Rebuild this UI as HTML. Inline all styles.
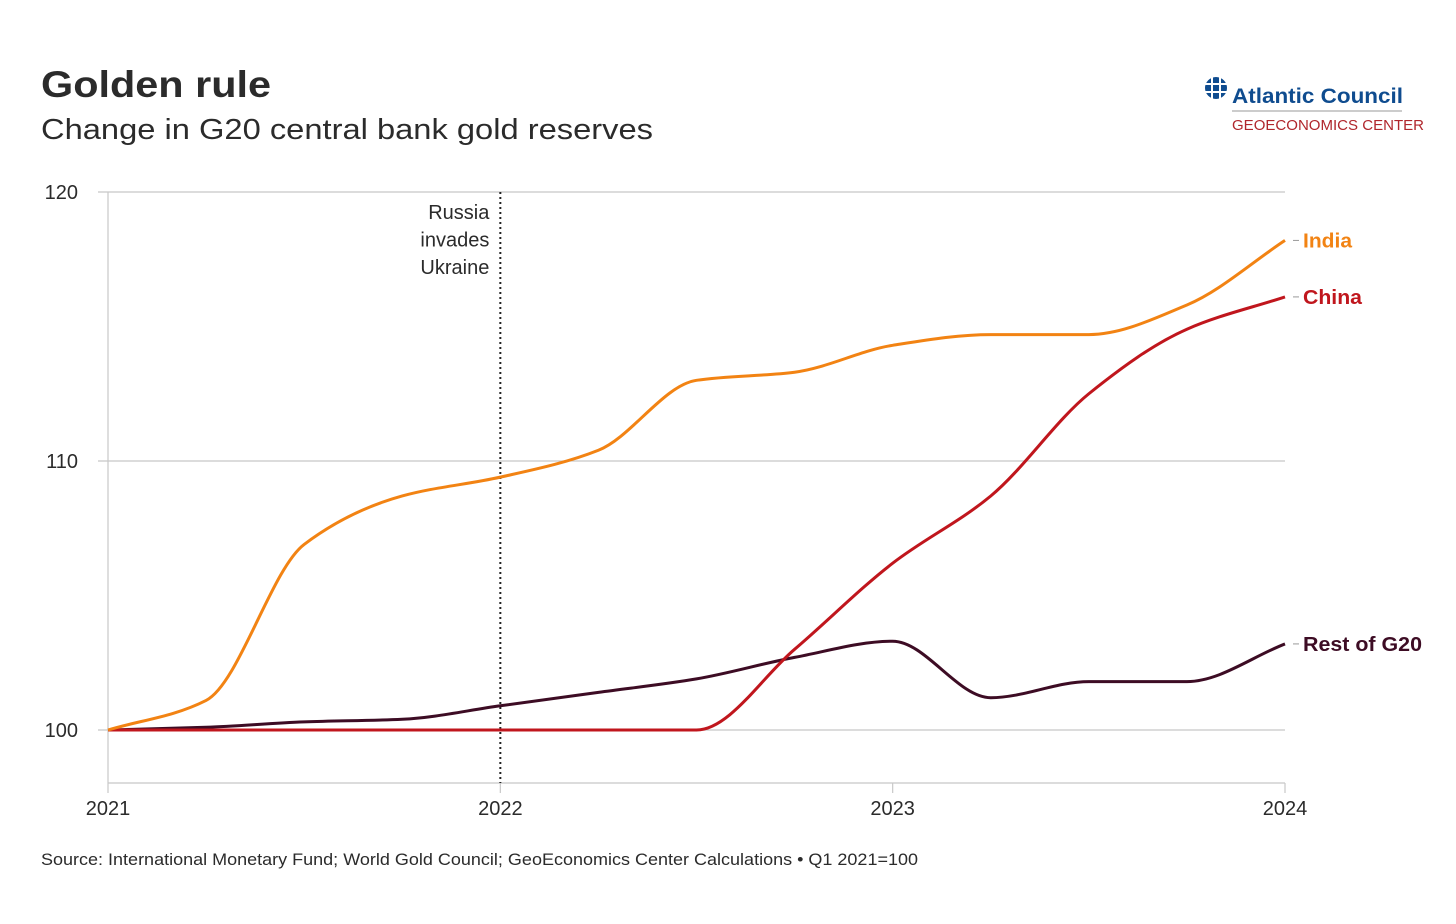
<!DOCTYPE html>
<html><head><meta charset="utf-8"><style>
body{margin:0;background:#fff;width:1456px;height:919px;overflow:hidden;font-family:"Liberation Sans",sans-serif}
</style></head><body>
<svg id="c" width="1456" height="919" font-family="Liberation Sans, sans-serif">
<text x="41" y="97" font-size="37" font-weight="bold" fill="#2b2b2b" textLength="230" lengthAdjust="spacingAndGlyphs">Golden rule</text>
<text x="41" y="139" font-size="29" fill="#2b2b2b" textLength="612" lengthAdjust="spacingAndGlyphs">Change in G20 central bank gold reserves</text>
<g>
<circle cx="1216" cy="88" r="11" fill="#0f4c8f"/>
<path d="M1205 84h22M1205 92h22M1212 77v22M1220 77v22" stroke="#fff" stroke-width="2"/>
<text x="1232" y="103" font-size="21" font-weight="bold" fill="#0f4c8f" textLength="171" lengthAdjust="spacingAndGlyphs">Atlantic Council</text>
<line x1="1232" y1="111" x2="1402" y2="111" stroke="#bbb" stroke-width="1.5"/>
<text x="1232" y="130" font-size="14.5" fill="#b0262c" textLength="192" lengthAdjust="spacingAndGlyphs">GEOECONOMICS CENTER</text>
</g>
<g id="grid"></g><g id="lines"></g>
<text x="41" y="865" font-size="16.5" fill="#2b2b2b" textLength="877" lengthAdjust="spacingAndGlyphs">Source: International Monetary Fund; World Gold Council; GeoEconomics Center Calculations • Q1 2021=100</text>
</svg>
<script>
const quarters=["2021Q1","2021Q2","2021Q3","2021Q4","2022Q1","2022Q2","2022Q3","2022Q4","2023Q1","2023Q2","2023Q3","2023Q4","2024Q1"];
const india=[100,101.1,106.9,108.7,109.4,110.4,113.0,113.3,114.3,114.7,114.7,115.8,118.2];
const china=[100,100,100,100,100,100,100,103.0,106.2,108.7,112.5,114.9,116.1];
const rest=[100,100.1,100.3,100.4,100.9,101.4,101.9,102.7,103.3,101.2,101.8,101.8,103.2];
const yTicks=[100,110,120];
const xTicks=["2021","2022","2023","2024"];
const NS="http://www.w3.org/2000/svg";
const X=i=>108+i*(1285-108)/(quarters.length-1);
const Y=v=>730-(v-100)*26.9;
function mk(t,a,p){const e=document.createElementNS(NS,t);for(const k in a)e.setAttribute(k,a[k]);p.appendChild(e);return e;}
const g=document.getElementById('grid'),L=document.getElementById('lines');
yTicks.forEach(v=>{
 const l=mk('line',{x1:98,x2:1285,y1:Y(v),y2:Y(v),stroke:'#c8c8c8','stroke-width':1.2},g);
 
 
 const t=mk('text',{x:78,y:Y(v)+7,'font-size':20,fill:'#2b2b2b','text-anchor':'end'},g);t.textContent=v;
 
 
});
const ax=mk('line',{x1:108,x2:1285,y1:783,y2:783,stroke:'#c8c8c8','stroke-width':1.2},g);


const ay=mk('line',{x1:108,x2:108,y1:192,y2:783,stroke:'#c8c8c8','stroke-width':1.2},g);


xTicks.forEach((s,i)=>{const x=X(i*4);
 mk('line',{x1:x,x2:x,y1:783,y2:793,stroke:'#c8c8c8','stroke-width':1.2},g);
 const t=mk('text',{x:x,y:815,'font-size':20,fill:'#2b2b2b','text-anchor':'middle'},g);t.textContent=s;
 
 
});
const ev=mk('line',{x1:X(4),x2:X(4),y1:192,y2:783,stroke:'#222','stroke-width':2,'stroke-dasharray':'2,3'},g);


["Russia","invades","Ukraine"].forEach((w,i)=>{const t=mk('text',{x:X(4)-11,y:219+i*27.5,'font-size':20,fill:'#2b2b2b','text-anchor':'end'},g);t.textContent=w;
 
 });
function path(vals){
 const n=vals.length,xs=vals.map((_,i)=>X(i)),ys=vals.map(Y),h=xs[1]-xs[0];
 const d=[];for(let i=0;i<n-1;i++)d.push((ys[i+1]-ys[i])/h);
 const m=[d[0]];for(let i=1;i<n-1;i++)m.push(d[i-1]*d[i]<=0?0:2/(1/d[i-1]+1/d[i]));m.push(d[n-2]);
 let s='M'+xs[0]+','+ys[0];
 for(let i=0;i<n-1;i++)s+=` C${xs[i]+h/3},${ys[i]+m[i]*h/3} ${xs[i+1]-h/3},${ys[i+1]-m[i+1]*h/3} ${xs[i+1]},${ys[i+1]}`;
 return s;}
[[rest,'#3d0c24','Rest of G20','line-rest-of-g20',119],[china,'#c0161d','China','line-china',59],[india,'#f28313','India','line-india',49]].forEach(([v,c,lab,nm,w])=>{
 const p=mk('path',{d:path(v),fill:'none',stroke:c,'stroke-width':3},L);
 
 
 const y=Y(v[v.length-1]);
 mk('line',{x1:1293,x2:1299,y1:y,y2:y,stroke:'#999','stroke-width':1},L);
 const t=mk('text',{x:1303,y:y+7,'font-size':20,'font-weight':'bold',fill:c,textLength:w,lengthAdjust:'spacingAndGlyphs'},L);t.textContent=lab;
 
 
});
</script>
</body></html>
